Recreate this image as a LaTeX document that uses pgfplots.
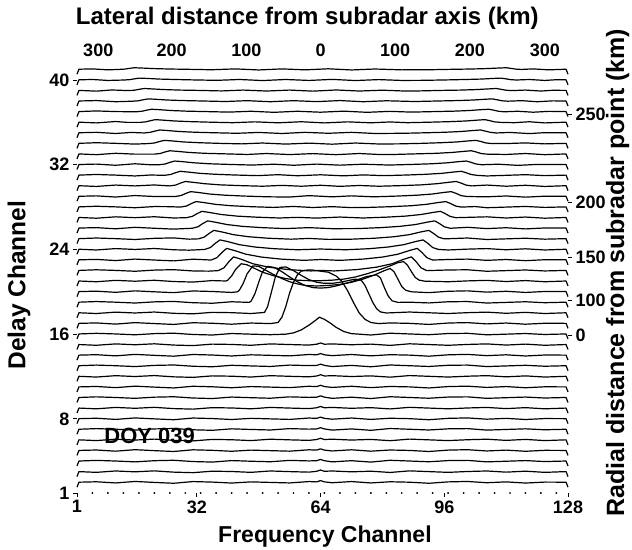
\documentclass[border=0pt]{standalone}
\usepackage{fontspec}
\setmainfont{Liberation Sans}
\usepackage{pgfplots}
\pgfplotsset{compat=1.18}
\tikzset{tr/.style={black, line width=1.2pt, line join=round}}
\begin{document}
\begin{tikzpicture}
\useasboundingbox (-77pt,-56pt) rectangle (555pt,493pt);
\begin{axis}[
  at={(0pt,0pt)}, anchor=south west, scale only axis,
  width=491pt, height=427.8pt,
  xmin=1, xmax=128, ymin=1, ymax=41.4,
  axis x line*=bottom, axis y line*=left,
  axis line style={draw=none},
  xtick={1,32,64,96,128}, ytick={1,8,16,24,32,40},
  tick align=outside, major tick length=4pt,
  tick style={black, line width=0.8pt},
  tick label style={font=\fontsize{18}{18}\selectfont\bfseries},
  /pgf/number format/assume math mode=true,
  xlabel={Frequency Channel}, ylabel={Delay Channel},
  xlabel style={font=\fontsize{23}{23}\selectfont\bfseries, at={(axis description cs:0.505,-0.102)}, anchor=center},
  ylabel style={font=\fontsize{24.5}{24.5}\selectfont\bfseries, at={(axis description cs:-0.118,0.486)}, anchor=center},
  clip=false,
]
\addplot[only marks, mark=*, mark size=0.7pt, black] coordinates {(5,1)(9,1)(13,1)(17,1)(21,1)(25,1)(29,1)(33,1)(37,1)(41,1)(45,1)(49,1)(53,1)(57,1)(61,1)(65,1)(69,1)(73,1)(77,1)(81,1)(85,1)(89,1)(93,1)(97,1)(101,1)(105,1)(109,1)(113,1)(117,1)(121,1)(125,1)};
% d=2..15
\addplot[tr] coordinates {(1,1.55)(1.5,2.02)(6,2.06)(11,1.95)(16,2.09)(21,2)(26,1.92)(31,2.08)(36,2.03)(41,1.94)(46,2.05)(51,2)(56,1.95)(61,2.08)(63,2.05)(64,2.17)(65,2.05)(67,1.97)(72,2.08)(77,1.95)(82,2.06)(87,2.02)(92,1.92)(97,2.05)(102,2.09)(107,1.97)(112,2.05)(117,1.94)(122,2.03)(127.5,2.02)(128,1.55)};
\addplot[tr] coordinates {(1,2.55)(1.5,3.02)(6,2.95)(11,3.08)(16,3)(21,3.09)(26,2.97)(31,2.92)(36,3.06)(41,3.03)(46,2.95)(51,3.08)(56,3.02)(61,2.97)(63,3.05)(64,3.17)(65,3.05)(67,3.08)(72,3)(77,3.06)(82,2.94)(87,3.09)(92,3.02)(97,2.95)(102,3.03)(107,3.08)(112,2.97)(117,3.06)(122,2.95)(127.5,3.02)(128,2.55)};
\addplot[tr] coordinates {(1,3.55)(1.5,4.02)(6,4.08)(11,4.02)(16,3.94)(21,4.05)(26,4.09)(31,3.97)(36,3.92)(41,4.06)(46,4)(51,3.95)(56,4.08)(61,4.03)(63,4.05)(64,4.17)(65,4.05)(67,3.94)(72,4.05)(77,3.92)(82,4.09)(87,4.02)(92,3.95)(97,4.06)(102,4.08)(107,3.94)(112,4)(117,4.06)(122,3.97)(127.5,4.02)(128,3.55)};
\addplot[tr] coordinates {(1,4.55)(1.5,5.02)(6,5.06)(11,4.95)(16,5.09)(21,5)(26,4.92)(31,5.08)(36,5.03)(41,4.94)(46,5.05)(51,5)(56,4.95)(61,5.08)(63,5.05)(64,5.17)(65,5.05)(67,4.97)(72,5.08)(77,4.95)(82,5.06)(87,5.02)(92,4.92)(97,5.05)(102,5.09)(107,4.97)(112,5.05)(117,4.94)(122,5.03)(127.5,5.02)(128,4.55)};
\addplot[tr] coordinates {(1,5.55)(1.5,6.02)(6,5.95)(11,6.08)(16,6)(21,6.09)(26,5.97)(31,5.92)(36,6.06)(41,6.03)(46,5.95)(51,6.08)(56,6.02)(61,5.97)(63,6.05)(64,6.17)(65,6.05)(67,6.08)(72,6)(77,6.06)(82,5.94)(87,6.09)(92,6.02)(97,5.95)(102,6.03)(107,6.08)(112,5.97)(117,6.06)(122,5.95)(127.5,6.02)(128,5.55)};
\addplot[tr] coordinates {(1,6.55)(1.5,7.02)(6,7.08)(11,7.02)(16,6.94)(21,7.05)(26,7.09)(31,6.97)(36,6.92)(41,7.06)(46,7)(51,6.95)(56,7.08)(61,7.03)(63,7.05)(64,7.17)(65,7.05)(67,6.94)(72,7.05)(77,6.92)(82,7.09)(87,7.02)(92,6.95)(97,7.06)(102,7.08)(107,6.94)(112,7)(117,7.06)(122,6.97)(127.5,7.02)(128,6.55)};
\addplot[tr] coordinates {(1,7.55)(1.5,8.02)(6,8.06)(11,7.95)(16,8.09)(21,8)(26,7.92)(31,8.08)(36,8.03)(41,7.94)(46,8.05)(51,8)(56,7.95)(61,8.08)(63,8.05)(64,8.17)(65,8.05)(67,7.97)(72,8.08)(77,7.95)(82,8.06)(87,8.02)(92,7.92)(97,8.05)(102,8.09)(107,7.97)(112,8.05)(117,7.94)(122,8.03)(127.5,8.02)(128,7.55)};
\addplot[tr] coordinates {(1,8.55)(1.5,9.02)(6,8.95)(11,9.08)(16,9)(21,9.09)(26,8.97)(31,8.92)(36,9.06)(41,9.03)(46,8.95)(51,9.08)(56,9.02)(61,8.97)(63,9.05)(64,9.17)(65,9.05)(67,9.08)(72,9)(77,9.06)(82,8.94)(87,9.09)(92,9.02)(97,8.95)(102,9.03)(107,9.08)(112,8.97)(117,9.06)(122,8.95)(127.5,9.02)(128,8.55)};
\addplot[tr] coordinates {(1,9.55)(1.5,10.02)(6,10.08)(11,10.02)(16,9.94)(21,10.05)(26,10.09)(31,9.97)(36,9.92)(41,10.06)(46,10)(51,9.95)(56,10.08)(61,10.03)(63,10.05)(64,10.17)(65,10.05)(67,9.94)(72,10.05)(77,9.92)(82,10.09)(87,10.02)(92,9.95)(97,10.06)(102,10.08)(107,9.94)(112,10)(117,10.06)(122,9.97)(127.5,10.02)(128,9.55)};
\addplot[tr] coordinates {(1,10.55)(1.5,11.02)(6,11.06)(11,10.95)(16,11.09)(21,11)(26,10.92)(31,11.08)(36,11.03)(41,10.94)(46,11.05)(51,11)(56,10.95)(61,11.08)(63,11.05)(64,11.17)(65,11.05)(67,10.97)(72,11.08)(77,10.95)(82,11.06)(87,11.02)(92,10.92)(97,11.05)(102,11.09)(107,10.97)(112,11.05)(117,10.94)(122,11.03)(127.5,11.02)(128,10.55)};
\addplot[tr] coordinates {(1,11.55)(1.5,12.02)(6,11.95)(11,12.08)(16,12)(21,12.09)(26,11.97)(31,11.92)(36,12.06)(41,12.03)(46,11.95)(51,12.08)(56,12.02)(61,11.97)(63,12.05)(64,12.17)(65,12.05)(67,12.08)(72,12)(77,12.06)(82,11.94)(87,12.09)(92,12.02)(97,11.95)(102,12.03)(107,12.08)(112,11.97)(117,12.06)(122,11.95)(127.5,12.02)(128,11.55)};
\addplot[tr] coordinates {(1,12.55)(1.5,13.02)(6,13.08)(11,13.02)(16,12.94)(21,13.05)(26,13.09)(31,12.97)(36,12.92)(41,13.06)(46,13)(51,12.95)(56,13.08)(61,13.03)(63,13.05)(64,13.17)(65,13.05)(67,12.94)(72,13.05)(77,12.92)(82,13.09)(87,13.02)(92,12.95)(97,13.06)(102,13.08)(107,12.94)(112,13)(117,13.06)(122,12.97)(127.5,13.02)(128,12.55)};
\addplot[tr] coordinates {(1,13.55)(1.5,14.02)(6,14.06)(11,13.95)(16,14.09)(21,14)(26,13.92)(31,14.08)(36,14.03)(41,13.94)(46,14.05)(51,14)(56,13.95)(61,14.08)(63,14.05)(64,14.17)(65,14.05)(67,13.97)(72,14.08)(77,13.95)(82,14.06)(87,14.02)(92,13.92)(97,14.05)(102,14.09)(107,13.97)(112,14.05)(117,13.94)(122,14.03)(127.5,14.02)(128,13.55)};
\addplot[tr] coordinates {(1,14.55)(1.5,15.02)(6,14.95)(11,15.08)(16,15)(21,15.09)(26,14.97)(31,14.92)(36,15.06)(41,15.03)(46,14.95)(51,15.08)(56,15.02)(61,14.97)(63,15.05)(64,15.17)(65,15.05)(67,15.08)(72,15)(77,15.06)(82,14.94)(87,15.09)(92,15.02)(97,14.95)(102,15.03)(107,15.08)(112,14.97)(117,15.06)(122,14.95)(127.5,15.02)(128,14.55)};
% d=16 leading edge
\addplot[tr] coordinates {(1,15.55)(1.5,16.02)(6,16.08)(11,16.02)(16,15.94)(21,16.05)(26,16.09)(31,15.97)(36,15.92)(41,16.06)(46,16)(51,15.95)(55,16.0)(57,16.12)(59,16.4)(61,16.85)(62.5,17.25)(63.7,17.6)(65,17.4)(66.5,17.05)(68,16.65)(70,16.25)(72,16.05)(74,16.0)(77,15.92)(82,16.09)(87,16.02)(92,15.95)(97,16.06)(102,16.08)(107,15.94)(112,16)(117,16.06)(122,15.97)(127.5,16.02)(128,15.55)};
% d=17..21
\addplot[tr] coordinates {(1,16.55)(1.5,17.02)(6,17.06)(11,16.95)(16,17.09)(21,17)(26,16.92)(31,17.08)(36,17.03)(41,16.94)(46,17.05)(51,17.0)(53,17.1)(54,17.6)(55,18.6)(56,19.9)(57,20.9)(58,21.6)(59,21.95)(60.5,22.05)(62,22.05)(64,21.95)(66,21.85)(68,21.5)(69.5,21.0)(71,20.1)(72.5,19.0)(74,18.0)(75.5,17.4)(77,17.1)(79,17.0)(82,17.06)(87,17.02)(92,16.92)(97,17.05)(102,17.09)(107,16.97)(112,17.05)(117,16.94)(122,17.03)(127.5,17.02)(128,16.55)};
\addplot[tr] coordinates {(1,17.55)(1.5,18.02)(6,17.95)(11,18.08)(16,18)(21,18.09)(26,17.97)(31,17.92)(36,18.06)(41,18.03)(46,17.95)(49.5,18.05)(50.3,18.6)(51.3,20.0)(52.3,21.4)(53.5,22.3)(55,22.35)(57,22.0)(59,21.55)(61,21.15)(63,20.9)(65,20.8)(67,20.8)(69,20.9)(71,21.05)(73,21.2)(74.5,21.1)(75.5,20.6)(76.5,19.8)(77.5,19.0)(78.5,18.4)(79.5,18.1)(81,18.0)(87,18.09)(92,18.02)(97,17.95)(102,18.03)(107,18.08)(112,17.97)(117,18.06)(122,17.95)(127.5,18.02)(128,17.55)};
\addplot[tr] coordinates {(1,18.55)(1.5,19.02)(6,19.08)(11,19.02)(16,18.94)(21,19.05)(26,19.09)(31,18.97)(36,18.92)(41,19.06)(45.5,19.0)(46,19.1)(47,19.8)(48,20.9)(49,21.9)(50.3,22.4)(52,22.3)(54,21.9)(56,21.4)(58,20.95)(60,20.6)(62,20.4)(64,20.35)(66,20.4)(68,20.55)(70,20.75)(72,20.95)(74,21.2)(76,21.45)(78.5,21.6)(79.5,21.3)(80.5,20.4)(81.5,19.6)(82.5,19.15)(84,19.0)(87,19.02)(92,18.95)(97,19.06)(102,19.08)(107,18.94)(112,19)(117,19.06)(122,18.97)(127.5,19.02)(128,18.55)};
\addplot[tr] coordinates {(1,19.55)(1.5,20.02)(6,20.06)(11,19.95)(16,20.09)(21,20)(26,19.92)(31,20.08)(36,20.03)(41,19.94)(42.5,20.0)(43,20.15)(44,20.8)(45,21.7)(46.5,22.45)(48,22.4)(50,22.0)(52,21.6)(54,21.25)(56,20.95)(58,20.75)(60,20.6)(63,20.55)(66,20.6)(69,20.7)(72,20.9)(75,21.2)(78,21.6)(80.5,22.0)(82,22.2)(83,21.9)(84,21.2)(85,20.5)(86,20.15)(87.5,20.0)(92,19.92)(97,20.05)(102,20.09)(107,19.97)(112,20.05)(117,19.94)(122,20.03)(127.5,20.02)(128,19.55)};
\addplot[tr] coordinates {(1,20.55)(1.5,21.02)(6,20.95)(11,21.08)(16,21)(21,21.09)(26,20.97)(31,20.92)(36,21.06)(39.5,21.02)(40,21.1)(41,21.5)(42,22.1)(43.5,22.65)(45,22.55)(47,22.2)(49,21.85)(52,21.5)(55,21.25)(58,21.1)(61,21.05)(64,21.05)(67,21.1)(70,21.2)(73,21.4)(76,21.7)(79,22.05)(82,22.45)(84,22.75)(85.5,22.85)(86.5,22.5)(87.5,21.9)(88.5,21.35)(89.5,21.1)(91,21.0)(97,20.95)(102,21.03)(107,21.08)(112,20.97)(117,21.06)(122,20.95)(127.5,21.02)(128,20.55)};
% d=22..41
\addplot[tr] coordinates {(1,21.55)(1.5,22.02)(6,22.08)(11,22.02)(16,21.94)(21,22.05)(26,22.09)(31,21.97)(35,21.95)(37.5,22.0)(39,22.26)(40.3,22.85)(41.5,23.3)(43.5,23.07)(46.5,22.65)(50.5,22.33)(55.5,22.1)(61.5,21.97)(64,22.02)(67.5,21.97)(73.5,22.1)(78.5,22.33)(82.5,22.65)(85.5,23.07)(87.5,23.3)(88.7,22.85)(90,22.26)(91.5,22.0)(97,22.06)(102,22.08)(107,21.94)(112,22)(117,22.06)(122,21.97)(127.5,22.02)(128,21.55)};
\addplot[tr] coordinates {(1,22.55)(1.5,23.02)(6,23.06)(11,22.95)(16,23.09)(21,23)(26,22.92)(31,23.08)(35.7,23.0)(37.2,23.22)(38.5,23.72)(39.7,24.1)(41.7,23.9)(44.7,23.55)(48.7,23.28)(53.7,23.09)(59.7,22.97)(64,23.05)(69,22.97)(75,23.09)(80,23.28)(84,23.55)(87,23.9)(89,24.1)(90.2,23.72)(91.5,23.22)(93,23.0)(97,23.05)(102,23.09)(107,22.97)(112,23.05)(117,22.94)(122,23.03)(127.5,23.02)(128,22.55)};
\addplot[tr] coordinates {(1,23.55)(1.5,24.02)(6,23.95)(11,24.08)(16,24)(21,24.09)(26,23.97)(30,23.93)(34,24.0)(35.5,24.18)(36.8,24.59)(38,24.9)(40,24.74)(43,24.45)(47,24.23)(52,24.07)(58,23.97)(64,24.04)(70.5,23.97)(76.5,24.07)(81.5,24.23)(85.5,24.45)(88.5,24.74)(90.5,24.9)(91.7,24.59)(93,24.18)(94.5,24.0)(97,23.95)(102,24.03)(107,24.08)(112,23.97)(117,24.06)(122,23.95)(127.5,24.02)(128,23.55)};
\addplot[tr] coordinates {(1,24.55)(1.5,25.02)(6,25.08)(11,25.02)(16,24.94)(21,25.05)(26,25.09)(30,24.97)(32.4,25.0)(33.9,25.16)(35.2,25.52)(36.4,25.8)(38.4,25.66)(41.4,25.4)(45.4,25.2)(50.4,25.06)(56.4,24.97)(61,25.04)(66,24.95)(72,24.97)(78,25.06)(83,25.2)(87,25.4)(90,25.66)(92,25.8)(93.2,25.52)(94.5,25.16)(96,25.0)(102,25.08)(107,24.94)(112,25)(117,25.06)(122,24.97)(127.5,25.02)(128,24.55)};
\addplot[tr] coordinates {(1,25.55)(1.5,26.02)(6,26.06)(11,25.95)(16,26.09)(21,26)(26,25.92)(30.8,26.0)(32.3,26.14)(33.6,26.46)(34.8,26.7)(36.8,26.57)(39.8,26.35)(43.8,26.18)(48.8,26.06)(54.8,25.97)(61,26.06)(67,25.96)(73.5,25.97)(79.5,26.06)(84.5,26.18)(88.5,26.35)(91.5,26.57)(93.5,26.7)(94.7,26.46)(96,26.14)(97.5,26.0)(102,26.09)(107,25.97)(112,26.05)(117,25.94)(122,26.03)(127.5,26.02)(128,25.55)};
\addplot[tr] coordinates {(1,26.55)(1.5,27.02)(6,26.95)(11,27.08)(16,27)(21,27.09)(26,26.97)(29.3,27.0)(30.8,27.12)(32.1,27.39)(33.3,27.6)(35.3,27.49)(38.3,27.3)(42.3,27.15)(47.3,27.05)(53.3,26.97)(58,27.03)(63,26.96)(69,27.06)(75,26.97)(81,27.05)(86,27.15)(90,27.3)(93,27.49)(95,27.6)(96.2,27.39)(97.5,27.12)(99,27.0)(102,27.03)(107,27.08)(112,26.97)(117,27.06)(122,26.95)(127.5,27.02)(128,26.55)};
\addplot[tr] coordinates {(1,27.55)(1.5,28.02)(6,28.08)(11,28.02)(16,27.94)(21,28.05)(25,28.04)(27.8,28.0)(29.3,28.1)(30.6,28.34)(31.8,28.52)(33.8,28.43)(36.8,28.26)(40.8,28.13)(45.8,28.04)(51.8,27.97)(57,28.06)(62,27.96)(67,28.04)(72,27.95)(76.4,27.97)(82.4,28.04)(87.4,28.13)(91.4,28.26)(94.4,28.43)(96.4,28.52)(97.6,28.34)(98.9,28.1)(100.4,28.0)(104,28.05)(107,27.94)(112,28)(117,28.06)(122,27.97)(127.5,28.02)(128,27.55)};
\addplot[tr] coordinates {(1,28.55)(1.5,29.02)(6,29.06)(11,28.95)(16,29.09)(21,29)(26.4,29.0)(27.9,29.09)(29.2,29.3)(30.4,29.46)(32.4,29.38)(35.4,29.23)(39.4,29.12)(44.4,29.04)(50.4,28.97)(56,28.95)(61,29.08)(67,28.97)(72,29.06)(77.8,28.97)(83.8,29.04)(88.8,29.12)(92.8,29.23)(95.8,29.38)(97.8,29.46)(99,29.3)(100.3,29.09)(101.8,29.0)(107,28.97)(112,29.05)(117,28.94)(122,29.03)(127.5,29.02)(128,28.55)};
\addplot[tr] coordinates {(1,29.55)(1.5,30.02)(6,29.95)(11,30.08)(16,30)(21,30.09)(25,30.0)(26.5,30.08)(27.8,30.27)(29,30.42)(31,30.34)(34,30.21)(38,30.1)(43,30.03)(49,29.97)(54,30.05)(59,29.97)(64,30.06)(69,29.96)(74,30.04)(79.1,29.97)(85.1,30.03)(90.1,30.1)(94.1,30.21)(97.1,30.34)(99.1,30.42)(100.3,30.27)(101.6,30.08)(103.1,30.0)(107,30.08)(112,29.97)(117,30.06)(122,29.95)(127.5,30.02)(128,29.55)};
\addplot[tr] coordinates {(1,30.55)(1.5,31.02)(6,31.08)(11,31.02)(16,30.94)(20,31.03)(23.7,31.0)(25.2,31.08)(26.5,31.25)(27.7,31.38)(29.7,31.31)(32.7,31.19)(36.7,31.1)(41.7,31.03)(47.7,30.97)(53,31.06)(58,30.96)(64,31.05)(70,30.95)(75,31.04)(80.4,30.97)(86.4,31.03)(91.4,31.1)(95.4,31.19)(98.4,31.31)(100.4,31.38)(101.6,31.25)(102.9,31.08)(104.4,31.0)(107,30.94)(112,31)(117,31.06)(122,30.97)(127.5,31.02)(128,30.55)};
\addplot[tr] coordinates {(1,31.55)(1.5,32.02)(6,32.06)(11,31.95)(16,32.09)(20,32.0)(22.3,32.0)(23.8,32.07)(25.1,32.23)(26.3,32.35)(28.3,32.29)(31.3,32.18)(35.3,32.09)(40.3,32.03)(46.3,31.97)(52,32.05)(57,31.95)(63,32.06)(69,31.96)(75,32.05)(81.7,31.97)(87.7,32.03)(92.7,32.09)(96.7,32.18)(99.7,32.29)(101.7,32.35)(102.9,32.23)(104.2,32.07)(105.7,32.0)(110,32.05)(115,31.94)(120,32.03)(127.5,32.02)(128,31.55)};
\addplot[tr] coordinates {(1,32.55)(1.5,33.02)(6,32.95)(11,33.08)(16,33.0)(21,33.0)(22.5,33.06)(23.8,33.21)(25,33.32)(27,33.26)(30,33.16)(34,33.08)(39,33.03)(45,32.97)(50,33.06)(56,32.96)(62,33.05)(68,32.95)(74,33.06)(79,32.97)(83,32.97)(89,33.03)(94,33.08)(98,33.16)(101,33.26)(103,33.32)(104.2,33.21)(105.5,33.06)(107,33.0)(112,32.97)(117,33.06)(122,32.95)(127.5,33.02)(128,32.55)};
\addplot[tr] coordinates {(1,33.55)(1.5,34.02)(6,34.08)(11,34.02)(16,33.95)(19.6,34.0)(21.1,34.06)(22.4,34.2)(23.6,34.3)(25.6,34.25)(28.6,34.15)(32.6,34.08)(37.6,34.02)(43.6,33.97)(49,34.05)(55,33.95)(61,34.04)(67,33.94)(73,34.05)(79,33.96)(84.2,33.97)(90.2,34.02)(95.2,34.08)(99.2,34.15)(102.2,34.25)(104.2,34.3)(105.4,34.2)(106.7,34.06)(108.2,34.0)(112,34)(117,34.06)(122,33.97)(127.5,34.02)(128,33.55)};
\addplot[tr] coordinates {(1,34.55)(1.5,35.02)(6,35.06)(11,34.95)(15,35.05)(18.4,35.0)(19.9,35.06)(21.2,35.18)(22.4,35.28)(24.4,35.23)(27.4,35.14)(31.4,35.07)(36.4,35.02)(42.4,34.97)(48,35.05)(54,34.95)(60,35.06)(66,34.97)(72,35.06)(78,34.95)(85.4,34.97)(91.4,35.02)(96.4,35.07)(100.4,35.14)(103.4,35.23)(105.4,35.28)(106.6,35.18)(107.9,35.06)(109.4,35.0)(113,35.05)(118,34.94)(122,35.03)(127.5,35.02)(128,34.55)};
\addplot[tr] coordinates {(1,35.55)(1.5,36.02)(6,35.95)(11,36.08)(14,36.0)(17.3,36.0)(18.8,36.05)(20.1,36.17)(21.3,36.26)(23.3,36.21)(26.3,36.13)(30.3,36.07)(35.3,36.02)(41.3,35.97)(47,36.05)(53,35.96)(59,36.06)(65,35.95)(71,36.05)(77,35.96)(82,36.04)(86.5,35.97)(92.5,36.02)(97.5,36.07)(101.5,36.13)(104.5,36.21)(106.5,36.26)(107.7,36.17)(109,36.05)(110.5,36.0)(114,35.97)(118,36.06)(122,35.95)(127.5,36.02)(128,35.55)};
\addplot[tr] coordinates {(1,36.55)(1.5,37.02)(6,37.08)(11,37.02)(16.3,37.0)(17.8,37.05)(19.1,37.16)(20.3,37.24)(22.3,37.2)(25.3,37.12)(29.3,37.06)(34.3,37.02)(40.3,36.97)(46,37.05)(52,36.95)(58,37.05)(64,36.96)(70,37.06)(76,36.95)(82,37.04)(87.5,36.97)(93.5,37.02)(98.5,37.06)(102.5,37.12)(105.5,37.2)(107.5,37.24)(108.7,37.16)(110,37.05)(111.5,37.0)(115,37.05)(119,36.96)(123,37.04)(127.5,37.02)(128,36.55)};
\addplot[tr] coordinates {(1,37.55)(1.5,38.02)(6,38.06)(11,37.95)(15.4,38.0)(16.9,38.04)(18.2,38.14)(19.4,38.22)(21.4,38.18)(24.4,38.11)(28.4,38.06)(33.4,38.02)(39.4,37.97)(45,38.05)(51,37.95)(57,38.05)(63,37.96)(69,38.06)(75,37.95)(81,38.04)(88.4,37.97)(94.4,38.02)(99.4,38.06)(103.4,38.11)(106.4,38.18)(108.4,38.22)(109.6,38.14)(110.9,38.04)(112.4,38.0)(116,38.05)(120,37.95)(124,38.03)(127.5,38.02)(128,37.55)};
\addplot[tr] coordinates {(1,38.55)(1.5,39.02)(6,38.95)(10,39.06)(14.4,39.0)(15.9,39.04)(17.2,39.13)(18.4,39.2)(20.4,39.16)(23.4,39.1)(27.4,39.05)(32.4,39.02)(38.4,38.97)(44,39.05)(50,38.96)(56,39.05)(62,38.95)(68,39.06)(74,38.96)(80,39.04)(85,38.97)(89.4,38.97)(95.4,39.02)(100.4,39.05)(104.4,39.1)(107.4,39.16)(109.4,39.2)(110.6,39.13)(111.9,39.04)(113.4,39.0)(117,39.05)(121,38.96)(124,39.03)(127.5,39.02)(128,38.55)};
\addplot[tr] coordinates {(1,39.55)(1.5,40.02)(5,40.05)(9,39.96)(13.2,40.0)(14.7,40.04)(16,40.12)(17.2,40.18)(19.2,40.15)(22.2,40.09)(26.2,40.05)(31.2,40.01)(37.2,39.97)(43,40.05)(49,39.95)(55,40.05)(61,39.96)(67,40.06)(73,39.95)(79,40.04)(85,39.96)(90.6,39.97)(96.6,40.01)(101.6,40.05)(105.6,40.09)(108.6,40.15)(110.6,40.18)(111.8,40.12)(113.1,40.04)(114.6,40.0)(118,40.05)(122,39.96)(125,40.03)(127.5,40.02)(128,39.55)};
\addplot[tr] coordinates {(1,40.55)(1.5,41.02)(5,41.05)(9,40.96)(11.8,41.0)(13.3,41.03)(14.6,41.1)(15.8,41.16)(17.8,41.13)(20.8,41.08)(24.8,41.04)(29.8,41.01)(35.8,40.97)(42,41.05)(48,40.95)(54,41.05)(60,40.96)(66,41.06)(72,40.95)(78,41.04)(85,40.96)(92,40.97)(98,41.01)(103,41.04)(107,41.08)(110,41.13)(112,41.16)(113.2,41.1)(114.5,41.03)(116,41.0)(119,41.05)(123,40.96)(127.5,41.02)(128,40.55)};
\node[font=\fontsize{22}{22}\selectfont\bfseries] at (axis cs:19.8,6.4) {DOY 039};
\end{axis}
% top labels
\begin{axis}[
  at={(0pt,0pt)}, anchor=south west, scale only axis,
  width=491pt, height=427.8pt,
  xmin=1, xmax=128, ymin=1, ymax=41.4,
  axis x line*=top, axis y line*=right,
  axis line style={draw=none},
  xtick={6.5,25.5,44.8,64,83.3,102.6,122},
  xticklabels={300,200,100,0,100,200,300},
  ytick=\empty,
  major tick length=0pt,
  tick label style={font=\fontsize{18}{18}\selectfont\bfseries},
  xticklabel style={yshift=5pt},
  xlabel={Lateral distance from subradar axis (km)},
  xlabel style={font=\fontsize{24}{24}\selectfont\bfseries, at={(axis description cs:0.469,1.110)}, anchor=center},
]
\end{axis}
% right labels
\begin{axis}[
  at={(0pt,0pt)}, anchor=south west, scale only axis,
  width=491pt, height=427.8pt,
  xmin=1, xmax=128, ymin=1, ymax=41.4,
  axis x line*=bottom, axis y line*=right,
  axis line style={draw=none},
  xtick=\empty,
  ytick={15.92,19.22,23.29,28.48,36.79},
  yticklabels={0,100,150,200,250},
  tick align=outside, major tick length=4pt,
  tick style={black, line width=0.8pt},
  tick label style={font=\fontsize{18}{18}\selectfont\bfseries},
  ylabel={Radial distance from subradar point (km)},
  ylabel style={font=\fontsize{25}{25}\selectfont\bfseries, at={(axis description cs:1.101,0.515)}, anchor=center},
]
\end{axis}
\end{tikzpicture}
\end{document}
